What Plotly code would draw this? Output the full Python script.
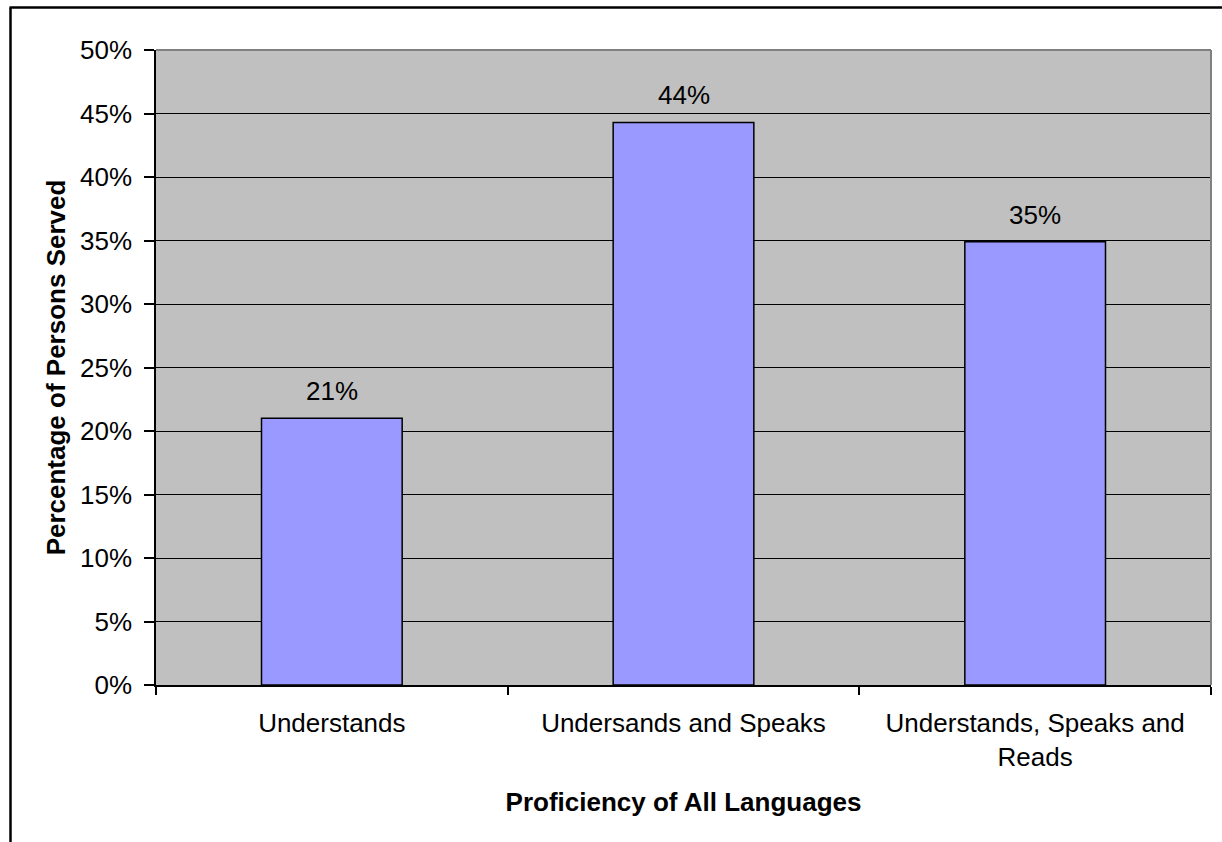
import plotly.graph_objects as go

# Proficiency categories and share of persons served in each
categories = ["Understands", "Undersands and Speaks", "Understands, Speaks and<br>Reads"]
shares = [0.21, 0.443, 0.349]

y_tickvals = [0.0, 0.05, 0.10, 0.15, 0.20, 0.25, 0.30, 0.35, 0.40, 0.45, 0.50]
y_ticktext = ["0%", "5%", "10%", "15%", "20%", "25%", "30%", "35%", "40%", "45%", "50%"]

W, H = 1222, 842
L, R, T, B = 156, 11, 50, 157
plot_w = W - L - R
plot_h = H - T - B

FONT = "Liberation Sans, Arial, sans-serif"
FS = 26


def px_x(px):
    return (px - L) / plot_w


def px_y(py):
    return (H - B - py) / plot_h


fig = go.Figure()
fig.add_trace(go.Bar(
    x=categories,
    y=shares,
    marker=dict(color="#9999FF", line=dict(color="black", width=1.5)),
    width=0.4,
    hoverinfo="skip",
))

# value labels above each bar
for cat, v in zip(categories, shares):
    fig.add_annotation(
        x=cat, y=v, xref="x", yref="y",
        text=f"{v:.0%}", showarrow=False,
        yanchor="bottom", yshift=10,
        font=dict(family=FONT, size=FS, color="black"),
    )

shapes = [
    # top and right edges of the plot area
    dict(type="line", xref="paper", yref="paper", x0=0, y0=1, x1=1, y1=1,
         line=dict(color="#808080", width=2)),
    dict(type="line", xref="paper", yref="paper", x0=1, y0=0, x1=1, y1=1,
         line=dict(color="#808080", width=2)),
    # chart frame (left and top)
    dict(type="line", xref="paper", yref="paper",
         x0=px_x(10.5), y0=px_y(H + 5), x1=px_x(10.5), y1=px_y(7.5),
         line=dict(color="black", width=2.5)),
    dict(type="line", xref="paper", yref="paper",
         x0=px_x(9.5), y0=px_y(7.5), x1=px_x(W + 5), y1=px_y(7.5),
         line=dict(color="black", width=2.5)),
]

fig.update_layout(
    width=W, height=H,
    margin=dict(l=L, r=R, t=T, b=B, autoexpand=False),
    paper_bgcolor="white",
    plot_bgcolor="#C0C0C0",
    showlegend=False,
    font=dict(family=FONT, size=FS, color="black"),
    shapes=shapes,
    xaxis=dict(
        range=[-0.5, 2.5],
        showgrid=False,
        showline=True, linecolor="black", linewidth=1.5,
        ticks="outside", tickson="boundaries", ticklen=8, tickwidth=1.5, tickcolor="black",
        tickfont=dict(family=FONT, size=FS, color="black"),
        ticklabelstandoff=14,
        title=dict(text="<b>Proficiency of All Languages</b>",
                   font=dict(family=FONT, size=FS, color="black"), standoff=22),
        automargin=False,
        fixedrange=True,
    ),
    yaxis=dict(
        range=[0, 0.5],
        tickvals=y_tickvals, ticktext=y_ticktext,
        showgrid=True, gridcolor="black", gridwidth=1.3,
        zeroline=False,
        showline=True, linecolor="black", linewidth=1.5,
        ticks="outside", ticklen=10, tickwidth=1.5, tickcolor="black",
        tickfont=dict(family=FONT, size=FS, color="black"),
        ticklabelstandoff=7,
        title=dict(text="<b>Percentage of Persons Served</b>",
                   font=dict(family=FONT, size=FS, color="black"), standoff=7),
        automargin=False,
        fixedrange=True,
    ),
)

fig.write_html("out.html")
